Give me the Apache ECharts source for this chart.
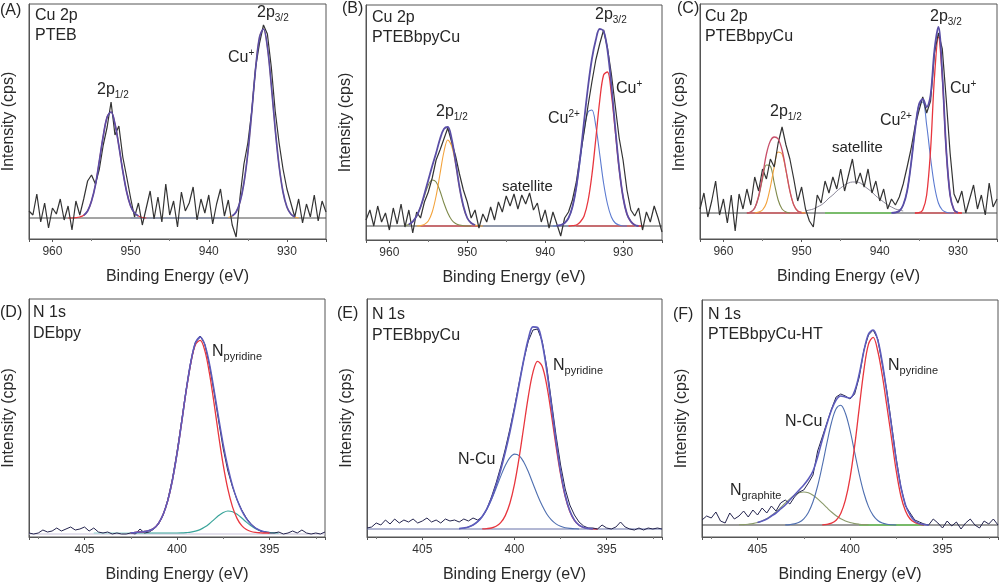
<!DOCTYPE html>
<html><head><meta charset="utf-8">
<script src="https://cdn.jsdelivr.net/npm/echarts@6/dist/echarts.min.js"></script>
<style>html,body{margin:0;padding:0;background:#fff}#c{width:1000px;height:584px}</style>
</head><body><div id="c"></div>
<script>
// ---------- energy grids ----------
const cuE = [963,962.5,962,961.5,961,960.5,960,959.5,959,958.5,958,957.5,957,956.5,956,955.5,955,954.5,954,953.5,953,952.5,952,951.5,951,950.5,950,949.5,949,948.5,948,947.5,947,946.5,946,945.5,945,944.5,944,943.5,943,942.5,942,941.5,941,940.5,940,939.5,939,938.5,938,937.5,937,936.5,936,935.5,935,934.5,934,933.5,933,932.5,932,931.5,931,930.5,930,929.5,929,928.5,928,927.5,927,926.5,926,925.5,925];
const nE = [408,407.75,407.5,407.25,407,406.75,406.5,406.25,406,405.75,405.5,405.25,405,404.75,404.5,404.25,404,403.75,403.5,403.25,403,402.75,402.5,402.25,402,401.75,401.5,401.25,401,400.75,400.5,400.25,400,399.75,399.5,399.25,399,398.75,398.5,398.25,398,397.75,397.5,397.25,397,396.75,396.5,396.25,396,395.75,395.5,395.25,395,394.75,394.5,394.25,394,393.75,393.5,393.25,393,392.75,392.5,392.25,392];
const cuTicks = ['960','950','940','930'];
const nTicks = ['405','400','395'];

// ---------- (A) Cu 2p PTEB ----------
const aRaw = [28,24,45,17,36,11,31,25,40,19,33,9,38,24,40,58,64,55,70,94,112,137,104,113,82,62,41,22,36,14,31,48,20,42,17,55,24,38,12,47,28,36,52,19,40,26,44,15,35,50,23,39,14,2,42,75,96,128,172,196,214,205,172,128,96,70,50,36,22,40,16,35,22,44,18,38,27];
const aP12 = [21,21,21.3,22,23.7,28,38,54,78,103,122,127,115,93,68,47,33,26,23,21.5,21];       // from 958
const aP32 = [21.5,23,27,37,56,86,127,171,202,210,192,154,110,73,47,32,25,22,21];            // from 937.5
const aBase = 21;

// ---------- (B) Cu 2p PTEBbpyCu ----------
const bRaw = [20,30,14,34,18,27,10,32,16,36,13,30,7,28,22,38,48,62,80,90,101,112,98,84,66,50,38,22,30,12,26,18,33,20,38,28,44,34,46,31,45,36,47,30,37,18,30,12,28,16,4,22,28,40,58,84,108,134,158,180,196,210,192,166,134,102,80,50,30,24,32,10,28,18,34,22,8];
const bG954 = [14.5,15.6,18.4,24,33,44,55,60,58,49,37,27,20,16.5,15,14.3,14,14];            // from 958
const bO952 = [14,14.4,15.6,19,28,44,66,88,100,94,76,52,33,22,17,15,14,14];                  // from 956.5
const bEnv12 = [15.6,18.4,24,33,46,60,74,87,101,111,113,101,78,53,34,22,17,15];              // from 957.5
const bCu2 = [14,14.3,15,17,22,33,52,80,109,128,130,114,86,57,36,23,17,15,14,14];            // from 939
const bCu1 = [14,14.3,15,18,24,39,65,101,139,165,168,146,109,71,43,26,18.5,15,14,14];        // from 937
const bEnv32 = [14.3,15,17,22,33,53,83,119,153,181,200,211,209,190,155,112,72,43,26,18.5,15,14]; // from 938.5
const bBase = 14;

// ---------- (C) Cu 2p PTEBbpyCu ----------
const cRaw = [30,46,22,38,58,24,40,16,44,8,45,30,50,34,62,48,70,60,80,72,96,112,94,80,60,38,52,30,18,12,44,36,58,46,62,50,70,48,64,80,55,66,52,70,46,58,38,50,30,40,34,42,55,72,90,112,128,142,126,138,186,206,190,140,86,45,36,48,26,40,54,30,44,24,56,32,40];
const cG954 = [26,27,31,42,60,74,73,56,39,30,27,26];                                         // from 957
const cO953 = [26,27,29,36,52,72,87,85,68,48,34,28,26.5,26];                                 // from 956
const cEnv12 = [26,27,31,43,63,85,98,102,100,89,69,48,34,28,26.5];                           // from 957
const cSat = [28,29,30,32,34,37,41,44,48,51,54,56,57,57,56,53,50,47,43,40,37,34,32,30,29,28]; // from 949.5
const cCu2 = [26.2,26.5,28,34,48,75,108,134,137,114,81,53,36,29,26.7,26,26];                 // from 938.5
const cCu1 = [26,26.3,29,44,89,162,202,162,89,44,29,26.3,26];                                // from 935.5
const cEnv32 = [26.2,26.5,28,34,48,75,108,134,140,132,144,189,212,165,90,44,29,26.3];        // from 938.5
const cBase = 26;

// ---------- (D) N 1s DEbpy ----------
const dRaw = [4,3,4,7,5,6,9,6,8,10,7,8,10,6,9,5,4,5,3,4,3,3,4,3,8,4,5,8,13,22,37,58,85,116,148,176,195,201,193,172,145,116,88,66,50,37,27,19,13,9,6,5,4,4,5,3,4,6,4,7,4,3,4,3,5];
const dPyr = [4.3,4.6,5,5.5,6.5,8.7,13.7,22.5,36.4,56.7,83.3,114.6,146.6,174.2,192.4,196.6,186.6,164.2,134.1,101.7,71.9,47.8,30.1,18.4,11.4,7.5,5.5,4.6,4.2,4,4]; // from 402.5
const dMin = [4,4,4,4,4,4,4,4,4,4,4,4.1,4.4,4.8,5.8,7.4,9.9,13.3,17.4,21.4,24.5,26,25.3,22.8,19,14.9,11.2,8.2,6.3,5.1,4.5,4.2,4]; // from 402.5
const dEnv = [4.3,4.6,5,5.5,6.5,8.7,13.7,22.5,36.4,56.7,83.3,114.7,147,175,194.2,200,192.5,173.5,147.5,119.1,92.4,69.8,51.4,37.2,26.4,18.4,12.7,8.8,6.5,5.1,4.5]; // from 402.5
const dBase = 4;

// ---------- (E) N 1s PTEBbpyCu ----------
const eRaw = [9,10,14,12,17,13,18,14,17,15,18,14,16,19,15,17,14,18,16,17,15,18,16,19,17,20,28,40,54,70,88,108,130,154,177,196,207,208,196,170,136,102,72,48,32,22,15,11,9,9,8,12,9,8,10,15,10,8,7,9,7,9,8,9,8];
const eNCu = [8.4,9,10,12,15.3,20.5,27.8,37.4,48.7,60.6,71.5,79.3,82.9,81.4,75,65.2,53.5,41.8,31.4,23,17.1,13.1,10.7,9.3,8.6,8.3,8]; // from 403
const ePyr = [8.1,8.4,9,10.7,14.3,21.4,33.7,52.9,79.1,110,140.7,164.6,175.7,170.8,151.5,122.6,91,62.6,40.4,25.6,16.6,11.8,9.5,8.6,8.2,8]; // from 401.75
const eEnv = [8.4,9,10,12,15.3,20.6,28.2,38.4,51.4,66.9,84.9,105,127.8,152.5,177,197.9,210.1,209.5,194.2,166.5,131.7,96.1,65.3,41.7,26.2,16.9,11.8,9.5,8.6,8.2]; // from 403
const eBase = 8;

// ---------- (F) N 1s PTEBbpyCu-HT ----------
const fRaw = [17,21,19,25,16,14,24,18,21,26,20,27,22,29,24,31,26,34,37,33,40,45,47,54,62,86,100,114,128,140,143,141,138,143,160,187,202,207,198,172,145,112,78,50,31,24,17,15,13,12,18,14,9,16,11,15,8,14,18,12,9,16,13,18,12];
const fGra = [12.2,12.4,12.8,13.4,14.5,16.1,18.3,21.3,25,29.3,33.8,38.2,41.8,44.2,45,44.2,41.8,38.2,33.8,29.3,25,21.3,18.3,16.1,14.5,13.4,12.8,12.4,12.2]; // from 406
const fNCu = [12.1,12.4,13.1,14.7,18.2,24.6,35.2,51,71.3,93.8,114.5,128.3,131.8,123.8,106.8,84.8,62.7,44,30.4,21.6,16.5,13.9,12.7,12.2,12]; // from 403.5
const fPyr = [12.2,12.6,13.8,16.8,23.6,36.8,58.9,90.8,129.2,166.7,192.9,199.6,186,161,130,98,66,41,26,18,14.5,13,12]; // from 401.5
const fEnv = [14.5,16,18,21,24,28,32,37,42,47,52,58,66,80,97,113,127,137,141,140,139,146,163,186,203,207,197,174,143,110,77,50,32,22,16,13.5,12.5,12]; // from 405
const fBase = 12;

// ---------- helpers ----------
const FONT = '"Liberation Sans", Arial, Helvetica, sans-serif';
function seg(grid, startE, vals) {
  const i0 = grid.indexOf(startE);
  return vals.map((v, k) => [grid[i0 + k], v]);
}
function flat(x0, x1, y) { return [[x0, y], [x1, y]]; }

const C = {
  raw: '#333333', rawN: '#24244e', env: '#5a4ea6', envN: '#5d5cbc',
  red: '#e8363e', orange: '#f3a33c', olive: '#7f8a4c', blue: '#5b7ad0',
  green: '#6cc45a', teal: '#3aa49a', bgray: '#7e8cb0', base: '#4a4a4a'
};

const series = [];
function add(gi, data, color, width, z, smooth) {
  series.push({
    type: 'line', xAxisIndex: gi, yAxisIndex: gi, data: data,
    symbol: 'none', showSymbol: false, smooth: smooth ? 0.35 : false,
    lineStyle: { color: color, width: width }, z: z, silent: true, animation: false
  });
}

// A
add(0, flat(963, 925, aBase), C.base, 1, 1);
add(0, flat(950, 937, aBase), C.bgray, 1.2, 2);
add(0, seg(cuE, 958, aP12), C.red, 1.2, 3, true);
add(0, seg(cuE, 937.5, aP32), C.orange, 1.2, 3, true);
add(0, seg(cuE, 963, aRaw), C.raw, 1.2, 4);
add(0, seg(cuE, 956, aP12.slice(4, 19)), C.env, 1.7, 5, true);
add(0, seg(cuE, 937, aP32.slice(1, 18)), C.env, 1.7, 5, true);
// B
add(1, flat(963, 925, bBase), C.base, 1, 1);
add(1, flat(949, 937, bBase), C.bgray, 1.2, 2);
add(1, flat(956, 948.5, bBase), C.red, 1.2, 2);
add(1, flat(936, 928.5, bBase), C.red, 1.2, 2);
add(1, seg(cuE, 958, bG954), C.olive, 1.1, 3, true);
add(1, seg(cuE, 956.5, bO952), C.orange, 1.1, 3, true);
add(1, seg(cuE, 939, bCu2), C.blue, 1.1, 3, true);
add(1, seg(cuE, 937, bCu1), C.red, 1.3, 3, true);
add(1, seg(cuE, 963, bRaw), C.raw, 1.2, 4);
add(1, seg(cuE, 957.5, bEnv12), C.env, 1.8, 5, true);
add(1, seg(cuE, 938.5, bEnv32), C.env, 1.8, 5, true);
// C
add(2, flat(963, 925, cBase), C.base, 1, 1);
add(2, flat(957, 949.5, cBase), C.red, 1.2, 2);
add(2, flat(947, 938.5, cBase), C.green, 1.4, 2);
add(2, flat(935.5, 929.5, cBase), C.red, 1.2, 2);
add(2, seg(cuE, 957, cG954), C.olive, 1.1, 3, true);
add(2, seg(cuE, 956, cO953), C.orange, 1.1, 3, true);
add(2, seg(cuE, 938.5, cCu2), C.blue, 1.1, 3, true);
add(2, seg(cuE, 935.5, cCu1), C.red, 1.3, 3, true);
add(2, seg(cuE, 949.5, cSat), '#8a8798', 1, 3, true);
add(2, seg(cuE, 963, cRaw), C.raw, 1.2, 4);
add(2, seg(cuE, 957, cEnv12), '#c8506a', 1.3, 5, true);
add(2, seg(cuE, 938.5, cEnv32), C.env, 1.8, 5, true);
// D
add(3, flat(408, 392, dBase - 1), '#c9c3da', 1, 1);
add(3, flat(404.5, 402.5, dBase), '#8fd3d0', 1.2, 2);
add(3, seg(nE, 402.5, dMin), C.teal, 1.2, 3, true);
add(3, seg(nE, 408, dRaw), C.rawN, 1, 4);
add(3, seg(nE, 402.5, dEnv), C.envN, 1.5, 5, true);
add(3, seg(nE, 402.5, dPyr), C.red, 1.3, 6, true);
add(3, seg(nE, 402.5, dEnv.slice(0, 16)), C.envN, 1.5, 7, true);
// E
add(4, flat(408, 392, eBase), '#6670a8', 1, 1);
add(4, seg(nE, 403, eNCu), '#4f6fb0', 1.1, 3, true);
add(4, seg(nE, 401.75, ePyr), C.red, 1.3, 3, true);
add(4, seg(nE, 408, eRaw), C.rawN, 1, 4);
add(4, seg(nE, 403, eEnv), C.envN, 1.7, 5, true);
// F
add(5, flat(408, 392, fBase), '#3a3a3a', 1, 1);
add(5, flat(399.5, 396, fBase), C.green, 1.4, 2);
add(5, seg(nE, 406, fGra), '#8a9a6a', 1.1, 3, true);
add(5, seg(nE, 403.5, fNCu), '#4f6fb0', 1.1, 3, true);
add(5, seg(nE, 401.5, fPyr), C.red, 1.3, 3, true);
add(5, seg(nE, 408, fRaw), C.rawN, 1, 4);
add(5, seg(nE, 405, fEnv), C.envN, 1.6, 5, true);

// ---------- layout ----------
const grids = [
  { left: 29, top: 4, width: 297, height: 235 },
  { left: 366, top: 5, width: 296, height: 235 },
  { left: 700, top: 4, width: 297, height: 235 },
  { left: 28, top: 299, width: 297, height: 238 },
  { left: 367, top: 299, width: 295, height: 238 },
  { left: 702, top: 300, width: 296, height: 237 }
];
const yMax = [235, 235, 235, 238, 238, 237];
grids.forEach(g => { g.show = true; g.borderColor = '#555'; g.borderWidth = 1; g.backgroundColor = 'transparent'; });

const xAxes = grids.map((g, i) => {
  const cu = i < 3;
  const ticks = cu ? cuTicks : nTicks;
  return {
    gridIndex: i, type: 'value', inverse: true,
    min: cu ? 925 : 392, max: cu ? 963 : 408, splitNumber: cu ? 4 : 3,
    name: 'Binding Energy (eV)', nameLocation: 'middle', nameGap: 30,
    nameTextStyle: { fontFamily: FONT, fontSize: 16, color: '#2a2a2a' },
    axisLine: { show: true, lineStyle: { color: '#555', width: 1 } },
    axisTick: { show: true, length: 3, lineStyle: { color: '#555' } },
    minorTick: { show: true, splitNumber: 2, length: 2, lineStyle: { color: '#777' } },
    axisLabel: {
      show: true, margin: 7, fontFamily: FONT, fontSize: 12, color: '#333',
      showMinLabel: false, showMaxLabel: false,
      formatter: v => (ticks.indexOf(String(v)) >= 0 ? String(v) : '')
    },
    splitLine: { show: false }, minorSplitLine: { show: false }
  };
});
const yAxes = grids.map((g, i) => ({
  gridIndex: i, type: 'value', min: 0, max: yMax[i],
  name: 'Intensity (cps)', nameLocation: 'middle', nameGap: 12, nameRotate: 90,
  nameTextStyle: { fontFamily: FONT, fontSize: 16, color: '#2a2a2a' },
  axisLine: { show: true, lineStyle: { color: '#555' } },
  axisTick: { show: false }, axisLabel: { show: false }, splitLine: { show: false }
}));

// ---------- text ----------
const rich = {
  b: { fontFamily: FONT, fontSize: 16, color: '#262626', lineHeight: 20 },
  sub: { fontFamily: FONT, fontSize: 10, color: '#262626', verticalAlign: 'bottom', lineHeight: 11 },
  sub2: { fontFamily: FONT, fontSize: 11, color: '#262626', verticalAlign: 'bottom', lineHeight: 11 },
  sup: { fontFamily: FONT, fontSize: 10, color: '#262626', verticalAlign: 'top', lineHeight: 10 }
};
function T(x, y, text, size) {
  return { type: 'text', x: x, y: y, silent: true, z: 100,
    style: { text: text, fontFamily: FONT, fontSize: size || 16, fill: '#262626', align: 'left', verticalAlign: 'top', rich: rich } };
}
const graphic = [
  T(0, 3, '(A)', 16), T(342, 1, '(B)', 16), T(677, 1, '(C)', 16),
  T(0, 305, '(D)', 16), T(337, 306, '(E)', 16), T(673, 307, '(F)', 16),
  T(35, 8, 'Cu 2p'), T(35, 28, 'PTEB'),
  T(372, 10, 'Cu 2p'), T(372, 30, 'PTEBbpyCu'),
  T(705, 9, 'Cu 2p'), T(705, 29, 'PTEBbpyCu'),
  T(33, 305, 'N 1s'), T(33, 326, 'DEbpy'),
  T(372, 307, 'N 1s'), T(372, 328, 'PTEBbpyCu'),
  T(708, 307, 'N 1s'), T(708, 327, 'PTEBbpyCu-HT'),
  T(97, 80, '{b|2p}{sub|1/2}'), T(257, 3, '{b|2p}{sub|3/2}'), T(228, 48, '{b|Cu}{sup|+}'),
  T(436, 102, '{b|2p}{sub|1/2}'), T(595, 5, '{b|2p}{sub|3/2}'), T(616, 79, '{b|Cu}{sup|+}'),
  T(548, 109, '{b|Cu}{sup|2+}'), T(502, 179, 'satellite', 15),
  T(770, 102, '{b|2p}{sub|1/2}'), T(930, 7, '{b|2p}{sub|3/2}'), T(950, 79, '{b|Cu}{sup|+}'),
  T(880, 111, '{b|Cu}{sup|2+}'), T(832, 140, 'satellite', 15),
  T(212, 342, '{b|N}{sub2|pyridine}'),
  T(458, 452, 'N-Cu'), T(553, 356, '{b|N}{sub2|pyridine}'),
  T(785, 414, 'N-Cu'), T(888, 356, '{b|N}{sub2|pyridine}'), T(730, 481, '{b|N}{sub2|graphite}')
];

const chart = echarts.init(document.getElementById('c'), null, { renderer: 'canvas' });
chart.setOption({
  animation: false, backgroundColor: '#fff',
  grid: grids, xAxis: xAxes, yAxis: yAxes, series: series, graphic: graphic
});
</script></body></html>
